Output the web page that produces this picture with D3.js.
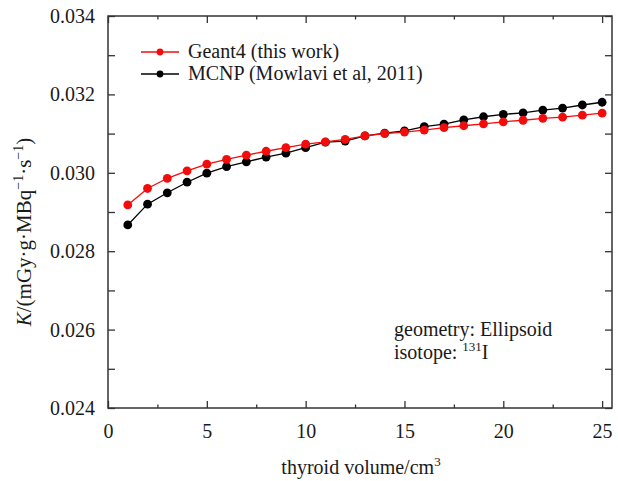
<!DOCTYPE html>
<html>
<head>
<meta charset="utf-8">
<script src="https://cdn.jsdelivr.net/npm/d3@7"></script>
<style>
  html, body { margin: 0; padding: 0; background: #fff; }
  svg { display: block; }
  svg text { font-family: "Liberation Serif", "Times New Roman", serif !important; }
</style>
</head>
<body>
<svg id="chart" width="618" height="481"></svg>
<script>
// ---- data ----
const volumes = [1,2,3,4,5,6,7,8,9,10,11,12,13,14,15,16,17,18,19,20,21,22,23,24,25];
const geant4 = [0.02918,0.02960,0.02986,0.03005,0.03022,0.03034,0.03045,0.03055,0.03064,0.03073,
                0.03079,0.03085,0.03094,0.03100,0.03104,0.03109,0.03115,0.03120,0.03125,0.03130,
                0.03134,0.03139,0.03142,0.03147,0.03152];
const mcnp   = [0.02867,0.02920,0.02949,0.02976,0.02999,0.03016,0.03028,0.03040,0.03050,0.03064,
                0.03078,0.03081,0.03094,0.03101,0.03107,0.03118,0.03124,0.03135,0.03143,0.03149,
                0.03153,0.03160,0.03165,0.03173,0.03180];
const xTicks = [0,5,10,15,20,25];
const xMinorTicks = [2.5,7.5,12.5,17.5,22.5];
const yTicks = [0.024,0.026,0.028,0.030,0.032,0.034];
const yMinorTicks = [0.025,0.027,0.029,0.031,0.033];
const seriesNames = ["Geant4 (this work)", "MCNP (Mowlavi et al, 2011)"];
const seriesColors = ["#f20d0d", "#000000"];

// ---- layout ----
const svg = d3.select("#chart");
const L = 108, R = 612, T = 16, B = 408;
const x = d3.scaleLinear().domain([0, 25.5]).range([L, R]);
const y = d3.scaleLinear().domain([0.024, 0.034]).range([B, T]);
const axisColor = "#333";
const textColor = "#1a1a1a";
const FS = 20;

// frame
svg.append("rect").attr("x", L).attr("y", T).attr("width", R - L).attr("height", B - T)
  .attr("fill", "none").attr("stroke", axisColor).attr("stroke-width", 1.5);

// axes (inward ticks)
const gB = svg.append("g").attr("transform", `translate(0,${B})`)
  .call(d3.axisTop(x).tickValues(xTicks).tickSize(7).tickFormat(""));
const gBm = svg.append("g").attr("transform", `translate(0,${B})`)
  .call(d3.axisTop(x).tickValues(xMinorTicks).tickSize(3.5).tickFormat(""));
const gT = svg.append("g").attr("transform", `translate(0,${T})`)
  .call(d3.axisBottom(x).tickValues(xTicks).tickSize(7).tickFormat(""));
const gTm = svg.append("g").attr("transform", `translate(0,${T})`)
  .call(d3.axisBottom(x).tickValues(xMinorTicks).tickSize(3.5).tickFormat(""));
const gL = svg.append("g").attr("transform", `translate(${L},0)`)
  .call(d3.axisRight(y).tickValues(yTicks.concat(yMinorTicks)).tickSize(7).tickFormat(""));
const gR = svg.append("g").attr("transform", `translate(${R},0)`)
  .call(d3.axisLeft(y).tickValues(yTicks.concat(yMinorTicks)).tickSize(7).tickFormat(""));
[gB, gBm, gT, gTm, gL, gR].forEach(g => {
  g.select(".domain").remove();
  g.selectAll(".tick line").attr("stroke", axisColor).attr("stroke-width", 1.3);
});

// tick labels
const xLab = d3.axisBottom(x).tickValues(xTicks).tickSize(0).tickPadding(0).tickFormat(d3.format("d"));
const gxl = svg.append("g").attr("transform", `translate(0,${B + 16})`).call(xLab);
gxl.select(".domain").remove();
gxl.selectAll("text").attr("font-size", FS).attr("fill", textColor);

const yLab = d3.axisLeft(y).tickValues(yTicks).tickSize(0).tickPadding(0).tickFormat(d3.format(".3f"));
const gyl = svg.append("g").attr("transform", `translate(${L - 13},0)`).call(yLab);
gyl.select(".domain").remove();
gyl.selectAll("text").attr("font-size", FS).attr("fill", textColor);

// axis titles
const xt = svg.append("text").attr("x", 361).attr("y", 474)
  .attr("text-anchor", "middle").attr("font-size", FS).attr("fill", textColor);
xt.append("tspan").text("thyroid volume/cm");
xt.append("tspan").attr("font-size", 13).attr("dy", -8).text("3");

const yt = svg.append("text").attr("transform", `translate(31,232) rotate(-90)`)
  .attr("text-anchor", "middle").attr("font-size", 21).attr("fill", textColor);
yt.append("tspan").attr("font-style", "italic").text("K");
yt.append("tspan").text("/(mGy·g·MBq");
yt.append("tspan").attr("font-size", 14).attr("dy", -8).text("−1");
yt.append("tspan").attr("dy", 8).text("·s");
yt.append("tspan").attr("font-size", 14).attr("dy", -8).text("−1");
yt.append("tspan").attr("dy", 8).text(")");

// series
const allSeries = [mcnp, geant4];
const allColors = [seriesColors[1], seriesColors[0]];
const line = d3.line().x((d, i) => x(volumes[i])).y(d => y(d));
allSeries.forEach((s, k) => {
  svg.append("path").datum(s).attr("d", line).attr("fill", "none")
    .attr("stroke", allColors[k]).attr("stroke-width", 1.3);
  svg.append("g").selectAll("circle").data(s).join("circle")
    .attr("cx", (d, i) => x(volumes[i])).attr("cy", d => y(d)).attr("r", 4.4)
    .attr("fill", allColors[k]);
});

// legend
const legY = [52, 74];
seriesNames.forEach((name, i) => {
  svg.append("line").attr("x1", 141).attr("x2", 179).attr("y1", legY[i]).attr("y2", legY[i])
    .attr("stroke", seriesColors[i]).attr("stroke-width", 1.5);
  svg.append("circle").attr("cx", 160).attr("cy", legY[i]).attr("r", 3.4).attr("fill", seriesColors[i]);
  svg.append("text").attr("x", 188).attr("y", legY[i] + 6).attr("font-size", FS)
    .attr("fill", textColor).text(name);
});

// annotation
svg.append("text").attr("x", 394).attr("y", 336).attr("font-size", FS).attr("fill", textColor)
  .text("geometry: Ellipsoid");
const iso = svg.append("text").attr("x", 394).attr("y", 359).attr("font-size", FS).attr("fill", textColor);
iso.append("tspan").text("isotope: ");
iso.append("tspan").attr("font-size", 13).attr("dy", -8).text("131");
iso.append("tspan").attr("dy", 8).text("I");
</script>
</body>
</html>
